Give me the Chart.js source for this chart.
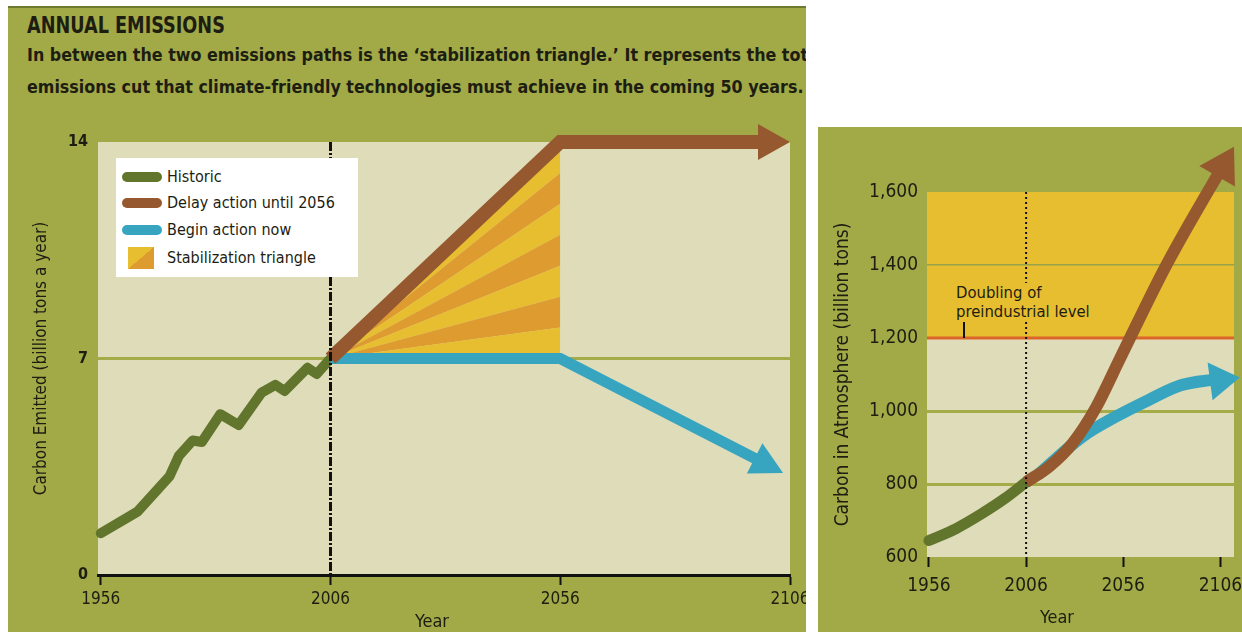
<!DOCTYPE html>
<html>
<head>
<meta charset="utf-8">
<script src="https://cdn.jsdelivr.net/npm/chart.js@4.4.1/dist/chart.umd.min.js"></script>
<style>
  html, body { margin: 0; padding: 0; background: #fff; }
  body { width: 1242px; height: 632px; position: relative; overflow: hidden;
         font-family: 'DejaVu Sans Condensed', 'DejaVu Sans', sans-serif; color: #1d1d12; }
  .panel { position: absolute; background: #a2aa48; overflow: hidden; }
  #leftPanel { left: 8px; top: 6px; width: 798px; height: 626px; }
  #rightPanel { left: 818px; top: 127px; width: 424px; height: 505px; }
  #topBar { position: absolute; left: 0; top: 0; width: 100%; height: 2px; background: #6e7a2f; }
  .fit { position: absolute; left: 19px; white-space: nowrap; font-weight: bold;
         transform-origin: left top; }
  #title { top: 6px; font-size: 23px; line-height: 26px; }
  #sub1 { top: 36px; font-size: 17px; line-height: 26px; }
  #sub2 { top: 68px; font-size: 17px; line-height: 26px; }
  canvas { position: absolute; left: 0; }
  #emitChart { top: 104px; }
  #atmChart { top: 0; }
  #legend { position: absolute; left: 108px; top: 152px; width: 242px; height: 119px; background: #fff; }
  #legend .row { position: absolute; left: 51px; height: 20px; line-height: 20px; font-size: 16px; white-space: nowrap; }
  #legend .sw { position: absolute; }
  #legend .line { left: 6px; width: 40px; height: 10px; border-radius: 5px; }
  #legend .box { left: 12px; top: 89px; width: 26px; height: 22px;
                 background: linear-gradient(to top left, #de9b2f 50%, #e7be2f 50%); }
  .axisTitle { position: absolute; width: 100px; text-align: center; font-size: 18px; line-height: 22px; }
  #doubling { position: absolute; left: 136px; top: 156px; font-size: 16.5px; line-height: 19px;
              background: #e7be2f; padding: 0 2px; }
  #doublingTick { position: absolute; left: 145px; top: 195px; width: 2px; height: 16px; background: #111; }
</style>
</head>
<body>
<div id="leftPanel" class="panel">
  <div id="topBar"></div>
  <div id="title" class="fit">ANNUAL EMISSIONS</div>
  <div id="sub1" class="fit">In between the two emissions paths is the ‘stabilization triangle.’ It represents the total</div>
  <div id="sub2" class="fit">emissions cut that climate-friendly technologies must achieve in the coming 50 years.</div>
  <canvas id="emitChart" width="798" height="522" style="width:798px;height:522px"></canvas>
  <div id="legend">
    <span class="sw line" style="top:14px;background:#61752c"></span>
    <div class="row" style="top:9px">Historic</div>
    <span class="sw line" style="top:40px;background:#96592f"></span>
    <div class="row" style="top:35px">Delay action until 2056</div>
    <span class="sw line" style="top:67px;background:#37a5c0"></span>
    <div class="row" style="top:62px">Begin action now</div>
    <span class="sw box"></span>
    <div class="row" style="top:90px">Stabilization triangle</div>
  </div>
  <div class="axisTitle" style="left:374px;top:604px">Year</div>
</div>
<div id="rightPanel" class="panel">
  <canvas id="atmChart" width="424" height="505" style="width:424px;height:505px"></canvas>
  <div id="doubling">Doubling of<br>preindustrial level</div>
  <div id="doublingTick"></div>
  <div class="axisTitle" style="left:189px;top:479px">Year</div>
</div>
<script>
// annual emissions (billion tons a year)
const yearTicks = [1956, 2006, 2056, 2106];
const emitTicks = [0, 7, 14];
const histYears = [1956, 1964, 1971, 1973, 1976, 1978, 1982, 1986, 1991, 1994, 1996, 2001, 2003, 2006];
const histEmit = [1.35, 2.05, 3.2, 3.85, 4.35, 4.3, 5.2, 4.85, 5.9, 6.15, 5.95, 6.7, 6.5, 7.0];
const delayYears = [2006, 2056, 2106];
const delayEmit = [7, 14, 14];
const nowYears = [2006, 2056, 2104.5];
const nowEmit = [7, 7, 3.3];
const wedgeYears = [2006, 2056];
const wedgeBase = 7;
const wedgeTops = [8, 9, 10, 11, 12, 13, 14];

// carbon in atmosphere (billion tons)
const atmTicks = [600, 800, 1000, 1200, 1400, 1600];
const histAtmYears = [1956, 1970, 1983, 1995, 2006];
const histAtm = [645, 678, 718, 760, 805];
const delayAtmYears = [2006, 2018, 2030, 2042, 2054, 2078, 2113];
const delayAtm = [805, 848, 912, 1010, 1140, 1398, 1724];
const nowAtmYears = [2012, 2035, 2052, 2069, 2086, 2116];
const nowAtm = [825, 930, 984, 1030, 1071, 1092];
const doublingYears = [1955, 2113];
const doublingLevel = 1200;
const nowYear = 2006;

const GREEN = '#61752c', BROWN = '#96592f', BLUE = '#37a5c0';
const YELLOW = '#e7be2f', ORANGE = '#de9b2f', BEIGE = '#dedcb9';
const GRID = '#a4ac4a', INK = '#1d1d12';

Chart.defaults.font.family = "'DejaVu Sans Condensed', 'DejaVu Sans', sans-serif";
Chart.defaults.color = INK;

function pairs(xs, ys) {
    return xs.map((x, i) => ({ x: x, y: ys[i] }));
}

// fit the header text to the widths in the print layout
function fitText() {
    const title = document.getElementById('title');
    title.style.transform = 'scaleX(' + (198 / title.scrollWidth) + ')';
    const sub2 = document.getElementById('sub2');
    const k = 776 / sub2.scrollWidth;
    sub2.style.transform = 'scaleX(' + k + ')';
    document.getElementById('sub1').style.transform = 'scaleX(' + k + ')';
}
fitText();

function plotBackground(band) {
    return {
        id: 'plotBackground',
        beforeDraw(chart) {
            const { ctx, chartArea: a } = chart;
            ctx.save();
            ctx.fillStyle = BEIGE;
            ctx.fillRect(a.left, a.top, a.right - a.left, a.bottom - a.top);
            if (band) {
                const y = chart.scales.y.getPixelForValue(band);
                ctx.fillStyle = YELLOW;
                ctx.fillRect(a.left, a.top, a.right - a.left, y - a.top);
            }
            ctx.restore();
        }
    };
}

function headFor(chart, index) {
    const ds = chart.data.datasets[index];
    if (!ds.arrow) return null;
    const pts = chart.getDatasetMeta(index).data;
    const p = pts[pts.length - 1], q = pts[pts.length - 2];
    let ux = p.x - q.x, uy = p.y - q.y;
    const d = Math.hypot(ux, uy);
    ux /= d; uy /= d;
    const L = ds.arrow.length;
    return { tx: p.x, ty: p.y, ux: ux, uy: uy, nx: -uy, ny: ux,
             bx: p.x - ux * L, by: p.y - uy * L, w: ds.arrow.width, color: ds.borderColor };
}

const arrowHeads = {
    id: 'arrowHeads',
    beforeDatasetDraw(chart, args) {
        const a = headFor(chart, args.index);
        if (!a) return;
        const ctx = chart.ctx, far = 3000;
        const bx = a.bx + a.ux, by = a.by + a.uy;
        ctx.save();
        ctx.beginPath();
        ctx.moveTo(bx + a.nx * far, by + a.ny * far);
        ctx.lineTo(bx - a.nx * far, by - a.ny * far);
        ctx.lineTo(bx - a.nx * far - a.ux * far, by - a.ny * far - a.uy * far);
        ctx.lineTo(bx + a.nx * far - a.ux * far, by + a.ny * far - a.uy * far);
        ctx.closePath();
        ctx.clip();
    },
    afterDatasetDraw(chart, args) {
        const a = headFor(chart, args.index);
        if (!a) return;
        const ctx = chart.ctx;
        ctx.restore();
        ctx.save();
        ctx.fillStyle = a.color;
        ctx.beginPath();
        ctx.moveTo(a.tx, a.ty);
        ctx.lineTo(a.bx + a.nx * a.w / 2, a.by + a.ny * a.w / 2);
        ctx.lineTo(a.bx - a.nx * a.w / 2, a.by - a.ny * a.w / 2);
        ctx.closePath();
        ctx.fill();
        ctx.restore();
    }
};

function nowMarker(dash, width) {
    return {
        id: 'nowMarker',
        afterDatasetsDraw(chart) {
            const { ctx, chartArea: a } = chart;
            const x = chart.scales.x.getPixelForValue(nowYear);
            ctx.save();
            ctx.strokeStyle = '#111';
            ctx.lineWidth = width;
            ctx.setLineDash(dash);
            ctx.beginPath();
            ctx.moveTo(x, a.top);
            ctx.lineTo(x, a.bottom);
            ctx.stroke();
            ctx.restore();
        }
    };
}

function fixedTicks(values) {
    return function (scale) {
        scale.ticks = values.map(v => ({ value: v }));
    };
}

// x axis: fixed height, and no extra room for the end labels
function xHeight(h) {
    return function (scale) {
        scale.height = h;
        scale.paddingLeft = 0;
        scale.paddingRight = 0;
    };
}

// ---- left chart: annual emissions ----
const emitSets = [
    { label: 'Delay action until 2056', data: pairs(delayYears, delayEmit), borderColor: BROWN,
      borderWidth: 14, borderJoinStyle: 'miter', borderCapStyle: 'butt', pointRadius: 0,
      clip: false, arrow: { length: 32, width: 36 } },
    { label: 'Begin action now', data: pairs(nowYears, nowEmit), borderColor: BLUE,
      borderWidth: 11, borderJoinStyle: 'miter', borderCapStyle: 'butt', pointRadius: 0,
      clip: false, arrow: { length: 32, width: 34 } },
    { label: 'Historic', data: pairs(histYears, histEmit), borderColor: GREEN,
      borderWidth: 10, borderJoinStyle: 'round', borderCapStyle: 'round', pointRadius: 0, clip: false },
    { label: 'triangle base', data: wedgeYears.map(x => ({ x: x, y: wedgeBase })),
      borderColor: 'rgba(0,0,0,0)', borderWidth: 0, pointRadius: 0, fill: false }
];
wedgeTops.forEach((top, i) => {
    emitSets.push({
        label: 'Stabilization triangle',
        data: [{ x: wedgeYears[0], y: wedgeBase }, { x: wedgeYears[1], y: top }],
        borderColor: 'rgba(0,0,0,0)', borderWidth: 0, pointRadius: 0,
        fill: '-1', backgroundColor: i % 2 === 0 ? YELLOW : ORANGE
    });
});

new Chart(document.getElementById('emitChart'), {
    type: 'line',
    data: { datasets: emitSets },
    options: {
        responsive: false,
        animation: false,
        events: [],
        layout: { padding: { left: 0, right: 16, top: 32, bottom: 0 }, autoPadding: false },
        plugins: { legend: { display: false }, tooltip: { enabled: false } },
        scales: {
            x: {
                type: 'linear', min: 1955.4, max: 2106,
                afterBuildTicks: fixedTicks(yearTicks),
                afterFit: xHeight(57),
                border: { display: true, color: '#111', width: 3 },
                grid: { drawOnChartArea: false, drawTicks: true, tickLength: 10, tickColor: '#111', tickWidth: 2 },
                ticks: { font: { size: 17 }, padding: 4, maxRotation: 0, autoSkip: false, callback: v => String(v) }
            },
            y: {
                type: 'linear', min: 0, max: 14,
                afterBuildTicks: fixedTicks(emitTicks),
                afterFit: s => { s.width = 90; },
                border: { display: false },
                grid: { drawTicks: false, lineWidth: 3,
                        color: c => (c.tick && c.tick.value === 7) ? GRID : 'rgba(0,0,0,0)' },
                ticks: { font: { size: 16, weight: 'bold' }, padding: 10, callback: v => String(v) },
                title: { display: true, text: 'Carbon Emitted (billion tons a year)',
                         font: { size: 17 }, padding: { top: 23, bottom: 0 } }
            }
        }
    },
    plugins: [plotBackground(null), arrowHeads, nowMarker([9, 2, 2, 2], 3)]
});

// ---- right chart: carbon in atmosphere ----
new Chart(document.getElementById('atmChart'), {
    type: 'line',
    data: {
        datasets: [
            { label: 'Delay action until 2056', data: pairs(delayAtmYears, delayAtm), borderColor: BROWN,
              borderWidth: 12, cubicInterpolationMode: 'monotone', borderCapStyle: 'butt', pointRadius: 0,
              clip: false, arrow: { length: 34, width: 41 } },
            { label: 'Begin action now', data: pairs(nowAtmYears, nowAtm), borderColor: BLUE,
              borderWidth: 12, cubicInterpolationMode: 'monotone', borderCapStyle: 'butt', pointRadius: 0,
              clip: false, arrow: { length: 30, width: 38 } },
            { label: 'Historic', data: pairs(histAtmYears, histAtm), borderColor: GREEN,
              borderWidth: 11, cubicInterpolationMode: 'monotone', borderCapStyle: 'round', pointRadius: 0,
              clip: false },
            { label: 'Doubling of preindustrial level', data: doublingYears.map(x => ({ x: x, y: doublingLevel })),
              borderColor: '#dc6528', borderWidth: 3, pointRadius: 0, clip: false }
        ]
    },
    options: {
        responsive: false,
        animation: false,
        events: [],
        layout: { padding: { left: 0, right: 8, top: 65, bottom: 0 }, autoPadding: false },
        plugins: { legend: { display: false }, tooltip: { enabled: false } },
        scales: {
            x: {
                type: 'linear', min: 1955, max: 2113,
                afterBuildTicks: fixedTicks(yearTicks),
                afterFit: xHeight(75),
                border: { display: false },
                grid: { drawOnChartArea: false, drawTicks: true, tickLength: 10, tickColor: '#111', tickWidth: 2 },
                ticks: { font: { size: 19 }, padding: 8, maxRotation: 0, autoSkip: false, callback: v => String(v) }
            },
            y: {
                type: 'linear', min: 600, max: 1600,
                afterBuildTicks: fixedTicks(atmTicks),
                afterFit: s => { s.width = 109; },
                border: { display: false },
                grid: { drawTicks: false,
                        lineWidth: c => (c.tick && c.tick.value === 1400) ? 1.5 : 3,
                        color: c => {
                            const v = c.tick && c.tick.value;
                            if (v === 1400) return '#97a24a';
                            if (v === 800 || v === 1000) return GRID;
                            return 'rgba(0,0,0,0)';
                        } },
                ticks: { font: { size: 19 }, padding: 9, callback: v => v.toLocaleString('en-US') },
                title: { display: true, text: 'Carbon in Atmosphere (billion tons)',
                         font: { size: 19 }, padding: { top: 14, bottom: 0 } }
            }
        }
    },
    plugins: [plotBackground(doublingLevel), arrowHeads, nowMarker([2, 3], 2)]
});
</script>
</body>
</html>
